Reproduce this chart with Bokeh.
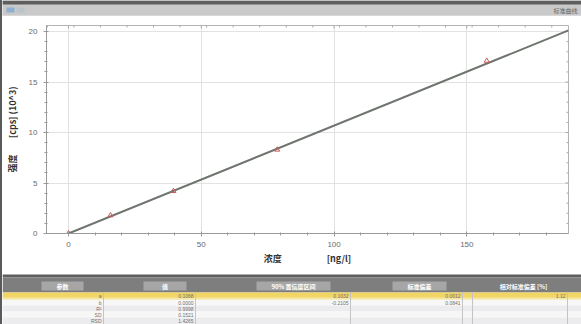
import math
from bokeh.plotting import figure
from bokeh.layouts import column, row
from bokeh.models import Range1d, SingleIntervalTicker, Spacer
from bokeh.core.properties import value
from bokeh.embed import file_html
from bokeh.resources import INLINE

# calibration standards: concentration [ng/l] and measured intensity [cps] (10^3)
concentration = [0.0, 15.8, 39.5, 78.6, 157.5]
intensity = [0.02, 1.8, 4.2, 8.3, 17.1]

# linear fit y = slope * x + intercept
slope = 0.1068
intercept = 0.0
fit_x = [0.0, 188.3]
fit_y = [slope * x + intercept for x in fit_x]

x_ticks = [0, 50, 100, 150]
y_ticks = [0, 5, 10, 15, 20]
x_lim = (-8.3, 188.3)
y_lim = (0, 20.6)

# result table
table_headers = ["参数", "值", "90% 置信度区间", "标准偏差", "相对标准偏差 [%]"]
param_names = ["a", "b", "R²", "SD", "RSD"]
param_values = ["0.1068", "0.0000", "0.9998", "0.1521", "1.4265"]
conf_values = ["0.1032", "-0.2105", "", "", ""]
sd_values = ["0.0012", "0.0841", "", "", ""]
rsd_values = ["1.12", "", "", "", ""]

CJK = "Noto Sans CJK SC"
LAT = "Liberation Sans"
W = 579
NB = "\u00a0"


def no_frame_align(fig):
    # keep each figure's own borders inside the column
    try:
        fig.frame_align = False
    except Exception:
        pass


# ---------- window title bar ----------
bar = figure(width=W, height=16, x_range=Range1d(0, W), y_range=Range1d(16, 0),
             x_axis_type=None, y_axis_type=None, toolbar_location=None,
             output_backend="svg", min_border=0, outline_line_color=None,
             background_fill_color="#c9c9c9", border_fill_color="#c9c9c9")
no_frame_align(bar)
bar.grid.visible = False
bar.quad(left=[0], right=[W], top=[0], bottom=[4], fill_color="#5e5e5e", line_color=None)
bar.quad(left=[0], right=[W], top=[15], bottom=[16], fill_color="#e8e8e8", line_color=None)
bar.quad(left=[4], right=[12], top=[7], bottom=[12], fill_color="#8fb0d0", line_color=None)
bar.quad(left=[14], right=[22], top=[7], bottom=[12], fill_color="#b8c4cc", line_color=None)
bar.text(x=[W - 4], y=[10], text=["标准曲线"], text_font=value(CJK), text_font_size="6px",
         text_color="#666666", text_align="right", text_baseline="middle")

# ---------- calibration chart ----------
p = figure(width=W, height=257, x_range=Range1d(*x_lim), y_range=Range1d(*y_lim),
           toolbar_location=None, output_backend="svg",
           min_border_left=43, min_border_right=13, min_border_top=9, min_border_bottom=40,
           background_fill_color="white", border_fill_color="white",
           outline_line_color="#b4b4b4")
no_frame_align(p)

p.xaxis.ticker = SingleIntervalTicker(interval=50, num_minor_ticks=5)
p.yaxis.ticker = SingleIntervalTicker(interval=5, num_minor_ticks=5)
p.xgrid.ticker = x_ticks
p.ygrid.ticker = y_ticks
p.grid.grid_line_color = "#e2e2e2"
p.grid.grid_line_width = 1

for ax in (p.xaxis[0], p.yaxis[0]):
    ax.axis_line_color = "#9a9a9a"
    ax.major_tick_line_color = "#9a9a9a"
    ax.minor_tick_line_color = "#9a9a9a"
    ax.major_tick_in = 2
    ax.major_tick_out = 3
    ax.minor_tick_in = 1
    ax.minor_tick_out = 2
    ax.major_label_text_font = LAT
    ax.major_label_text_font_size = "8px"
    ax.major_label_text_color = "#6a6a6a"
    ax.axis_label_text_font = CJK
    ax.axis_label_text_font_size = "9px"
    ax.axis_label_text_font_style = "bold"
    ax.axis_label_text_color = "#333333"

p.xaxis.axis_label = "浓度" + NB * 22 + "[ng/l]"
p.xaxis.major_label_standoff = 5
p.xaxis.axis_label_standoff = 2
p.yaxis.axis_label = "强度" + NB * 8 + "[cps] (10^3)"
p.yaxis.major_label_standoff = 6
p.yaxis.axis_label_standoff = 7

# inward tick marks along the top and right edges of the frame
x_minor = [x for x in range(int(x_lim[0]), int(x_lim[1]) + 1, 10) if x % 50 != 0 and x > x_lim[0]]
y_minor = [y for y in range(0, 21) if y % 5 != 0]
edge = "#a8a8a8"
p.scatter(x_ticks, [y_lim[1]] * len(x_ticks), marker="dash", angle=math.pi / 2,
          size=6, line_color=edge, line_width=1)
p.scatter(x_minor, [y_lim[1]] * len(x_minor), marker="dash", angle=math.pi / 2,
          size=4, line_color=edge, line_width=1)
p.scatter([x_lim[1]] * len(y_ticks), y_ticks, marker="dash",
          size=6, line_color=edge, line_width=1)
p.scatter([x_lim[1]] * len(y_minor), y_minor, marker="dash",
          size=4, line_color=edge, line_width=1)

p.line(fit_x, fit_y, line_color="#6e746e", line_width=2)
p.scatter(concentration, intensity, marker="triangle", size=5,
          fill_alpha=0, line_color="#c85a5a", line_width=1)

# ---------- result table ----------
TH = 51
t = figure(width=W, height=TH, x_range=Range1d(0, W), y_range=Range1d(TH, 0),
           x_axis_type=None, y_axis_type=None, toolbar_location=None,
           output_backend="svg", min_border=0, outline_line_color=None,
           background_fill_color="white", border_fill_color="white")
no_frame_align(t)
t.grid.visible = False

# header band
t.quad(left=[0], right=[W], top=[1], bottom=[4], fill_color="#5f5f5f", line_color=None)
t.quad(left=[0], right=[W], top=[4], bottom=[19], fill_color="#7e7e7e", line_color=None)

box_left = [39, 141, 254, 390, 494]
box_right = [81, 184, 328, 444, 548]
boxed = [True, True, True, True, False]
for l, r, h, b in zip(box_left, box_right, table_headers, boxed):
    if b:
        t.quad(left=[l], right=[r], top=[8], bottom=[17], fill_color="#a6a6a6", line_color=None)
    t.text(x=[(l + r) / 2], y=[12.8], text=[h], text_font=value(CJK), text_font_size="6px",
           text_font_style="bold", text_color="white", text_align="center",
           text_baseline="middle")

# rows: first one highlighted
row_top = [19, 26, 32, 38, 44]
row_bot = [26, 32, 38, 44, 51]
row_fill = ["#f1d565", "#f7f7f7", "#ececee", "#f7f7f7", "#ececee"]
t.quad(left=[0] * 5, right=[W] * 5, top=row_top, bottom=row_bot,
       fill_color=row_fill, line_color=None)
t.quad(left=[0], right=[W], top=[24], bottom=[26], fill_color="#f6e7a6", line_color=None)

# column separators
for cx in [101, 193, 348, 460, 470, 565]:
    t.segment(x0=[cx], y0=[19], x1=[cx], y1=[TH], line_color="#c4c4c4", line_width=1)

row_mid = [(a + b) / 2 for a, b in zip(row_top, row_bot)]
cols = [(99, param_names), (191, param_values), (346, conf_values),
        (458, sd_values), (563, rsd_values)]
for cx, vals in cols:
    keep = [(ym, v) for ym, v in zip(row_mid, vals) if v]
    t.text(x=[cx] * len(keep), y=[k[0] for k in keep], text=[k[1] for k in keep],
           text_font=value(LAT), text_font_size="5px",
           text_color="#707070", text_align="right", text_baseline="middle")

left_edge = Spacer(width=2, height=324, styles={"background-color": "#5a5a5a"})
layout = row(left_edge, column(bar, p, t, spacing=0), spacing=0)

open("out.html", "w").write(file_html(layout, INLINE))
